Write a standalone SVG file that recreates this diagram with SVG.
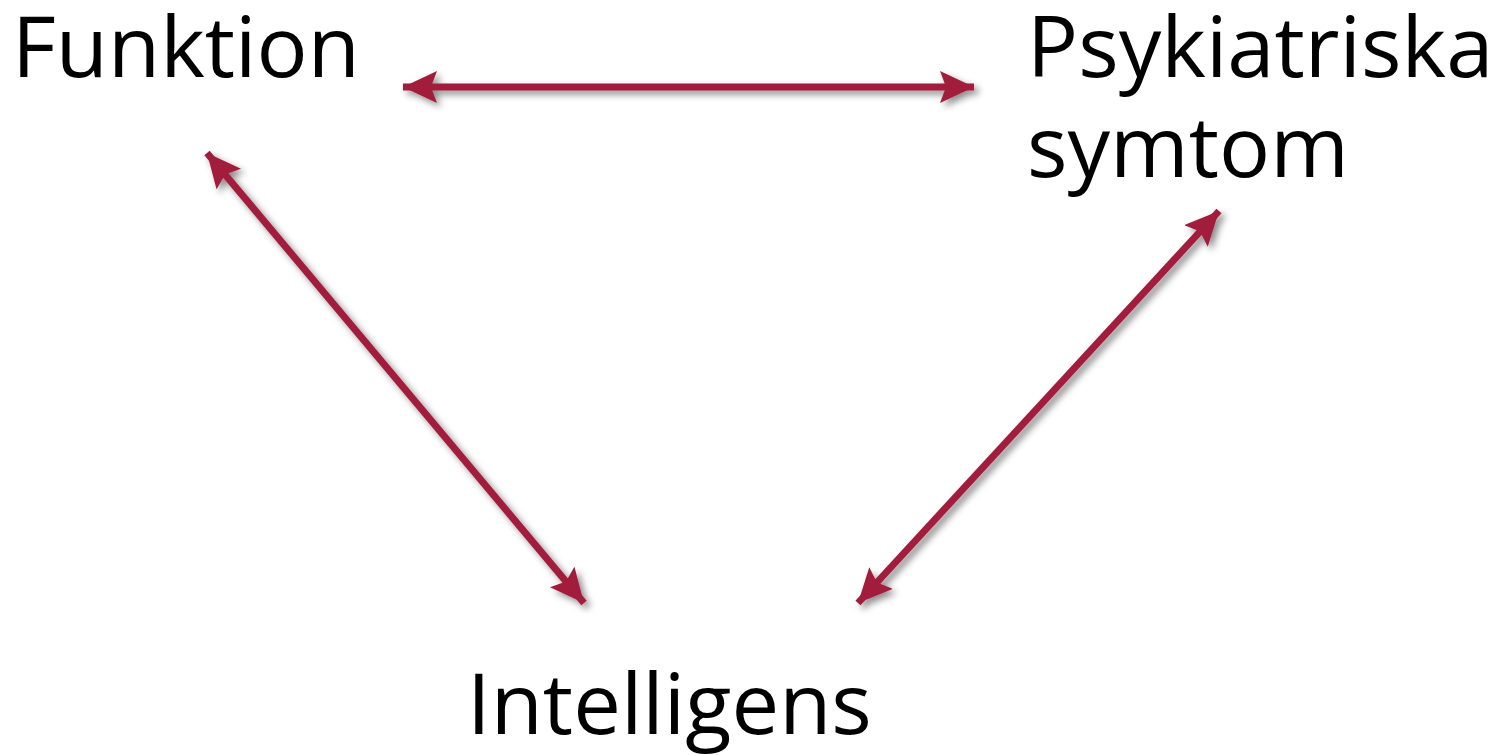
<svg xmlns="http://www.w3.org/2000/svg" width="1502" height="755" viewBox="0 0 1502 755">
<style>
.lbl{font-family:"Open Sans","Noto Sans",sans-serif;font-size:85px;fill:#000}
.conn{stroke:#A21C3B;stroke-width:7;fill:none;marker-start:url(#ah);marker-end:url(#ah)}
</style>
<defs>
<marker id="ah" markerUnits="userSpaceOnUse" markerWidth="36" markerHeight="32" viewBox="0 0 36 32" refX="34" refY="16" orient="auto-start-reverse">
<path d="M0,0 L34,16 L0,32 L6,16 Z" fill="#A21C3B"/>
</marker>
<filter id="sh" x="-20%" y="-20%" width="140%" height="140%">
<feDropShadow dx="4" dy="4" stdDeviation="3.5" flood-color="#000" flood-opacity="0.45"/>
</filter>
</defs>
<rect width="1502" height="755" fill="#fff"/>
<g id="connectors" filter="url(#sh)">
<line class="conn" x1="403" y1="87" x2="974" y2="87"/>
<line class="conn" x1="207" y1="153" x2="584" y2="603"/>
<line class="conn" x1="1219" y1="211" x2="858" y2="603"/>
</g>
<g id="funktion"><text class="lbl" x="12" y="77">Funktion</text></g>
<g id="psykiatriska"><text class="lbl" x="1027" y="77">Psykiatriska</text><text class="lbl" x="1027" y="177">symtom</text></g>
<g id="intelligens"><text class="lbl" x="467" y="734">Intelligens</text></g>
</svg>
